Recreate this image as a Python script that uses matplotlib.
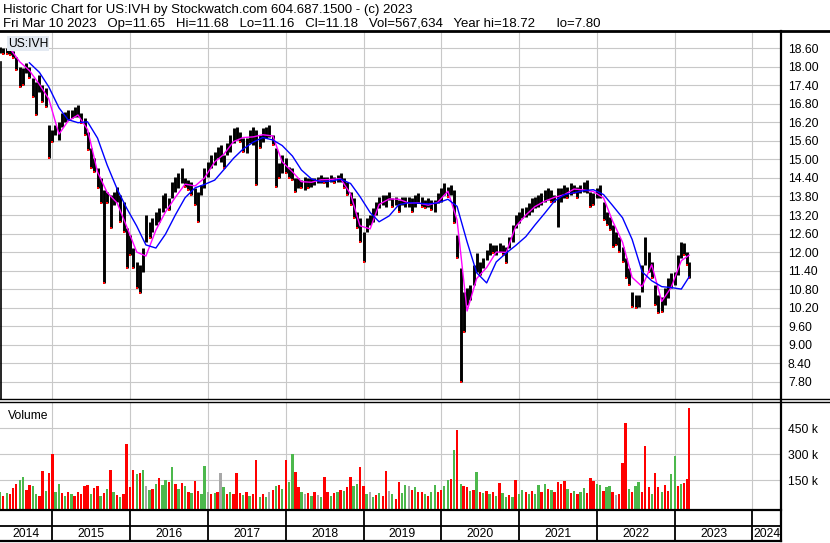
import numpy as np
import pandas as pd
import matplotlib
matplotlib.use('Agg')
import matplotlib.pyplot as plt
import matplotlib.dates as mdates
from matplotlib.lines import Line2D

plt.rcParams['font.family'] = ['Liberation Sans', 'DejaVu Sans']

# semi-monthly samples (May 2014 .. Mar 10 2023)
dates = pd.date_range('2014-05-01', periods=213, freq='SMS').append(pd.DatetimeIndex(['2023-03-10']))

hi = [18.65, 18.62, 18.60, 18.54, 18.51, 18.33, 18.00, 17.95, 18.11, 18.00,
      17.63, 17.52, 17.74, 17.41, 17.30, 16.12, 15.95, 16.12, 16.22, 16.49,
      16.55, 16.60, 16.60, 16.71, 16.76, 16.49, 16.33, 15.90, 15.36, 15.04,
      14.71, 14.39, 14.01, 13.95, 13.85, 13.95, 14.12, 13.85, 13.63, 12.77,
      12.55, 12.12, 11.69, 11.58, 12.12, 13.20, 12.98, 13.09, 13.31, 13.42,
      13.85, 13.90, 13.74, 14.28, 14.44, 14.55, 14.71, 14.39, 14.33, 14.28,
      14.06, 13.95, 14.17, 14.71, 14.93, 15.14, 15.25, 15.41, 15.47, 15.14,
      15.52, 15.79, 16.01, 16.06, 15.90, 15.68, 15.68, 15.95, 16.06, 15.95,
      15.79, 16.01, 16.06, 16.12, 15.79, 15.36, 14.87, 15.14, 15.04, 14.77,
      14.71, 14.39, 14.39, 14.33, 14.44, 14.39, 14.39, 14.39, 14.44, 14.50,
      14.44, 14.44, 14.50, 14.44, 14.50, 14.55, 14.39, 14.28, 13.95, 13.74,
      13.31, 13.09, 12.66, 13.09, 13.20, 13.42, 13.63, 13.79, 13.85, 13.85,
      13.95, 13.74, 13.79, 13.69, 13.79, 13.79, 13.79, 13.74, 13.85, 13.90,
      13.79, 13.69, 13.74, 13.69, 13.69, 13.90, 14.06, 14.23, 14.12, 14.17,
      14.01, 12.55, 11.47, 10.72, 10.83, 10.93, 11.58, 11.96, 11.69, 11.80,
      12.07, 12.28, 12.23, 12.23, 12.28, 12.23, 12.17, 12.50, 12.88, 13.20,
      13.31, 13.42, 13.47, 13.58, 13.74, 13.79, 13.85, 13.90, 14.01, 14.06,
      14.01, 13.85, 14.06, 14.06, 14.17, 14.12, 14.23, 14.17, 14.12, 14.17,
      14.28, 14.33, 13.95, 13.90, 14.06, 14.17, 13.63, 13.31, 13.15, 12.88,
      12.66, 12.50, 12.17, 11.80, 11.47, 10.72, 10.61, 10.61, 11.58, 12.50,
      12.01, 11.69, 10.93, 10.61, 10.55, 10.83, 11.15, 11.31, 11.36, 11.90,
      12.34, 12.28, 12.01, 11.68]

lo = [18.44, 18.41, 18.41, 18.38, 18.30, 17.90, 17.35, 17.41, 17.79, 17.63,
      17.03, 16.44, 17.19, 16.87, 16.71, 15.04, 15.57, 15.79, 15.63, 16.06,
      16.22, 16.28, 16.33, 16.38, 16.38, 16.17, 15.79, 15.31, 14.71, 14.60,
      14.06, 13.60, 11.00, 13.58, 12.77, 13.52, 13.63, 12.98, 12.66, 11.47,
      11.90, 11.47, 10.83, 10.66, 11.36, 12.34, 12.45, 12.66, 12.88, 12.98,
      13.31, 13.42, 13.36, 13.74, 13.95, 14.06, 14.23, 14.12, 14.01, 13.85,
      13.52, 12.98, 13.85, 14.06, 14.44, 14.71, 14.82, 15.04, 14.93, 14.71,
      15.14, 15.25, 15.52, 15.63, 15.57, 15.25, 15.20, 15.52, 15.47, 14.17,
      15.36, 15.57, 15.68, 15.74, 15.47, 14.12, 14.39, 14.55, 14.55, 14.39,
      14.33, 13.95, 14.06, 14.06, 14.01, 14.06, 14.12, 14.17, 14.23, 14.23,
      14.23, 14.12, 14.28, 14.23, 14.28, 14.28, 14.06, 13.85, 13.52, 13.09,
      12.77, 12.34, 11.69, 12.66, 12.88, 12.98, 13.20, 13.42, 13.52, 13.47,
      13.69, 13.47, 13.52, 13.31, 13.52, 13.47, 13.47, 13.31, 13.47, 13.58,
      13.47, 13.42, 13.47, 13.36, 13.31, 13.58, 13.63, 13.85, 13.79, 13.85,
      12.93, 11.80, 7.80, 9.42, 10.28, 10.45, 10.93, 11.36, 11.26, 11.47,
      11.74, 11.90, 11.96, 11.90, 12.01, 11.90, 11.64, 12.12, 12.34, 12.77,
      12.93, 13.09, 13.15, 13.20, 13.31, 13.42, 13.47, 13.52, 13.63, 13.69,
      13.63, 13.63, 12.82, 13.63, 13.74, 13.74, 13.85, 13.90, 13.74, 13.90,
      13.95, 13.90, 13.47, 13.52, 13.74, 13.74, 13.04, 12.88, 12.71, 12.17,
      12.23, 12.01, 11.69, 11.15, 10.93, 10.23, 10.18, 10.23, 10.72, 11.58,
      11.36, 11.15, 10.28, 10.02, 10.07, 10.28, 10.50, 10.83, 10.93, 11.26,
      11.80, 11.90, 11.58, 11.16]

# moving averages, read every third sample
ma_short = [18.60, 18.16, 17.88, 17.43, 16.96, 15.82, 16.24, 16.44, 15.97, 14.59,
            13.93, 13.59, 12.84, 12.00, 11.87, 12.71, 13.30, 13.78, 14.20, 14.14,
            14.40, 14.92, 15.16, 15.58, 15.71, 15.73, 15.80, 15.76, 14.92, 14.60,
            14.28, 14.26, 14.34, 14.35, 14.38, 13.88, 12.85, 12.75, 13.54, 13.72,
            13.71, 13.59, 13.59, 13.52, 13.61, 13.97, 13.04, 10.09, 11.14, 11.50,
            12.00, 11.99, 12.82, 13.20, 13.47, 13.65, 13.77, 13.86, 14.04, 14.01,
            13.96, 13.75, 13.01, 12.32, 11.18, 10.88, 11.59, 10.40, 10.85, 11.72,
            11.90]
ma_long = [18.13, 17.82, 17.35, 16.67, 16.29, 16.19, 16.22, 15.69, 14.82, 14.04,
           13.43, 12.84, 12.23, 12.13, 12.58, 13.21, 13.76, 14.08, 14.19, 14.33,
           14.66, 15.04, 15.34, 15.56, 15.71, 15.63, 15.45, 15.11, 14.66, 14.37,
           14.28, 14.30, 14.36, 14.22, 13.80, 13.28, 12.98, 13.17, 13.53, 13.60,
           13.58, 13.56, 13.59, 13.71, 13.48, 12.33, 11.33, 11.00, 11.68, 11.97,
           12.21, 12.50, 12.87, 13.26, 13.65, 13.86, 13.92, 13.99, 14.02, 13.86,
           13.51, 13.11, 12.41, 11.36, 11.07, 10.88, 10.85, 10.80, 11.20]

# volume in thousands, colour: g = up, r = down, n = unchanged
vol = [85, 60, 75, 70, 105, 130, 150, 170, 95, 125,
       120, 70, 60, 205, 90, 195, 300, 80, 130, 75,
       60, 80, 70, 60, 85, 70, 120, 125, 70, 105,
       115, 60, 75, 100, 210, 80, 65, 55, 70, 357,
       110, 210, 185, 195, 210, 120, 95, 100, 130, 165,
       125, 150, 140, 225, 130, 100, 135, 120, 80, 75,
       145, 90, 70, 230, 80, 70, 75, 85, 190, 110,
       70, 80, 70, 195, 75, 65, 85, 60, 70, 265,
       55, 70, 55, 85, 95, 120, 125, 100, 270, 140,
       300, 200, 110, 80, 70, 75, 60, 85, 65, 55,
       170, 80, 60, 75, 85, 95, 90, 110, 170, 120,
       130, 225, 120, 70, 80, 55, 65, 75, 60, 205,
       90, 70, 45, 140, 75, 125, 120, 95, 110, 85,
       80, 70, 60, 80, 125, 85, 95, 115, 150, 160,
       325, 440, 130, 120, 110, 90, 95, 200, 80, 75,
       90, 70, 85, 60, 135, 75, 55, 65, 55, 150,
       70, 95, 80, 70, 90, 70, 125, 85, 130, 100,
       95, 85, 140, 130, 145, 100, 75, 90, 70, 85,
       105, 75, 165, 145, 130, 125, 90, 110, 115, 85,
       65, 70, 250, 480, 100, 80, 115, 140, 80, 348,
       110, 70, 190, 110, 80, 125, 90, 185, 290, 115,
       130, 135, 155, 567]
vol_dir = ('grgrrrggrr' 'ggrrgrrggr' 'grgrrrrrgr' 'rgrgrgrgrr' 'rrgrgngrgr'
           'ggrgrgrgrg' 'rrggnrgrng' 'rgrrrgrgrr' 'grgnrgrgrg' 'grrgnrgrng'
           'rrgrgrgrrg' 'grrgngrgrr' 'ngrrggnrgr' 'rgrggrrggr' 'grgrrgrgrg'
           'rgrgrggrgr' 'ggrgrggrgr' 'grrrrgrgrg' 'grrrggrggr' 'nrrrgrggrr'
           'rgrrgrrggr' 'grrr')

price_ticks = [7.80, 8.40, 9.00, 9.60, 10.20, 10.80, 11.40, 12.00, 12.60, 13.20,
               13.80, 14.40, 15.00, 15.60, 16.20, 16.80, 17.40, 18.00, 18.60]
vol_ticks = [150000, 300000, 450000]
years = list(range(2014, 2025))

title1 = 'Historic Chart for US:IVH by Stockwatch.com 604.687.1500 - (c) 2023'
title2 = ('Fri Mar 10 2023   Op=11.65   Hi=11.68   Lo=11.16   Cl=11.18   '
          'Vol=567,634   Year hi=18.72      lo=7.80')

W, H = 830, 543
fig = plt.figure(figsize=(W / 100, H / 100), dpi=100)


def box(x0, y0, x1, y1):
    # pixel box (top-left origin) -> figure rect
    return [x0 / W, 1 - y1 / H, (x1 - x0) / W, (y1 - y0) / H]


ax_p = fig.add_axes(box(0, 31, 781, 399))
ax_v = fig.add_axes(box(0, 402, 781, 510))
ax_d = fig.add_axes(box(0, 510, 781, 541))

x = mdates.date2num(dates.to_pydatetime())
xl = mdates.date2num([pd.Timestamp('2014-04-30'), pd.Timestamp('2024-05-14')])
year_x = [mdates.date2num(pd.Timestamp(f'{y}-01-01')) for y in years[1:]]
grid_c = '#c8c8c8'

# price panel
ax_p.set_xlim(xl)
ax_p.set_ylim(7.24, 19.16)
for t in price_ticks:
    ax_p.axhline(t, color=grid_c, lw=0.8, zorder=0)
for yx in year_x:
    ax_p.axvline(yx, color=grid_c, lw=0.8, zorder=0)
hi_a = np.array(hi)
lo_a = np.array(lo)
ax_p.vlines(x, lo_a, hi_a, color='black', lw=2.1, zorder=2)
down = np.r_[False, hi_a[1:] < hi_a[:-1]]
ax_p.plot(x[down], lo_a[down], 's', color='red', ms=1.8, mew=0, zorder=3)
ax_p.plot(x[3::3], ma_short, color='#ff00ff', lw=1.0, zorder=4)
ax_p.plot(x[9::3], ma_long, color='#0000ff', lw=1.0, zorder=5)
ax_p.yaxis.tick_right()
ax_p.set_yticks(price_ticks)
ax_p.set_yticklabels([f'{t:.2f}' for t in price_ticks])
ax_p.tick_params(axis='y', length=0, pad=5, labelsize=8.7)
ax_p.set_xticks([])
ax_p.text(0.010, 0.982, 'US:IVH', transform=ax_p.transAxes, fontsize=8.7, va='top', ha='left',
          bbox=dict(boxstyle='square,pad=0.1', fc='#e4eaf2', ec='none'), zorder=6)

# volume panel
ax_v.set_xlim(xl)
ax_v.set_ylim(-21000, 602000)
for t in vol_ticks:
    ax_v.axhline(t, color=grid_c, lw=0.8, zorder=0)
for yx in year_x:
    ax_v.axvline(yx, color=grid_c, lw=0.8, zorder=0)
cmap = {'g': '#4cb84c', 'r': '#ff0000', 'n': '#a8a8a8'}
v = np.array(vol) * 1000
ax_v.bar(x, v + 21000, bottom=-21000, width=11, color=[cmap[c] for c in vol_dir],
         linewidth=0, zorder=2)
ax_v.yaxis.tick_right()
ax_v.set_yticks(vol_ticks)
ax_v.set_yticklabels([f'{t // 1000} k' for t in vol_ticks])
ax_v.tick_params(axis='y', length=0, pad=5, labelsize=8.7)
ax_v.set_xticks([])
ax_v.text(0.010, 0.93, 'Volume', transform=ax_v.transAxes, fontsize=8.7, va='top', ha='left')

# date strip
ax_d.set_xlim(xl)
ax_d.set_ylim(0, 1)
ax_d.axis('off')
for yx in year_x:
    ax_d.axvline(yx, color='black', lw=1.3)
ax_d.axhline(0.47, color='black', lw=1.3)
for y in years:
    a = max(mdates.date2num(pd.Timestamp(f'{y}-01-01')), xl[0])
    b = min(mdates.date2num(pd.Timestamp(f'{y + 1}-01-01')), xl[1])
    ax_d.text((a + b) / 2, 0.21, str(y), ha='center', va='center', fontsize=8.7)

for ax in (ax_p, ax_v):
    for s in ax.spines.values():
        s.set_visible(False)


def hline(y, x0, x1, lw):
    fig.add_artist(Line2D([x0 / W, x1 / W], [1 - y / H, 1 - y / H], color='black', lw=lw))


def vline(xp, y0, y1, lw):
    fig.add_artist(Line2D([xp / W, xp / W], [1 - y0 / H, 1 - y1 / H], color='black', lw=lw))


hline(30.5, 0, W, 2.0)
hline(399, 0, W, 1.0)
hline(402, 0, W, 1.0)
hline(510, 0, 781, 1.6)
hline(541, 0, 781, 1.6)
vline(781, 30.5, 541, 1.6)
vline(0.7, 62, 399, 1.2)

fig.text(3 / W, 1 - 13.5 / H, title1, fontsize=9.5, va='baseline')
fig.text(3 / W, 1 - 27.5 / H, title2, fontsize=9.5, va='baseline')

fig.savefig('out.png', dpi=100)
